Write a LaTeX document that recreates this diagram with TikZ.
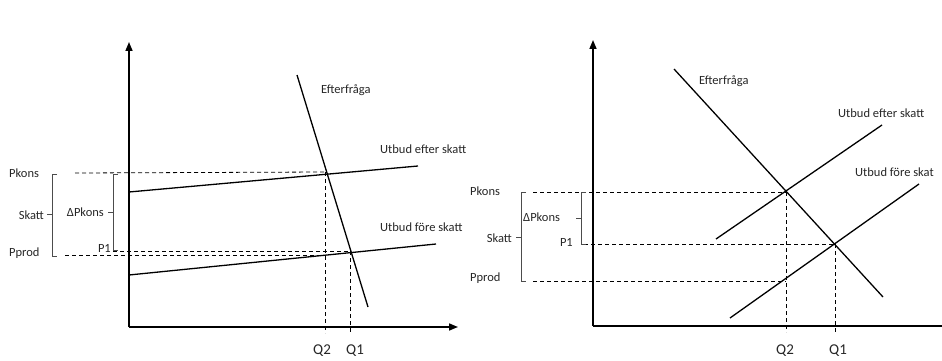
\documentclass[tikz,border=0pt]{standalone}
\usepackage{fontspec}
\setmainfont{Carlito}
\usetikzlibrary{arrows.meta}
\begin{document}
\begin{tikzpicture}[x=1pt,y=-1pt,
  axis/.style={line width=1.6pt,-{Triangle[length=9pt,width=7pt]}},
  curve/.style={line width=1.3pt},
  dashln/.style={line width=0.8pt,dash pattern=on 4pt off 3pt},
  brack/.style={line width=0.6pt,black!70},
  lbl/.style={font=\fontsize{12.5}{14}\selectfont,inner sep=0pt,text=black!85},
  qlbl/.style={font=\fontsize{15}{17}\selectfont,inner sep=0pt,text=black!85},
]
\useasboundingbox (0,0) rectangle (942,361);
% ---------- left chart ----------
\coordinate (LO) at (129,327);
\coordinate (LY) at (129,42);
\coordinate (LX) at (458,327);
\draw[axis] (LO) -- (LY);
\draw[axis] (LO) -- (LX);
\coordinate (LDa) at (297,75);
\coordinate (LDb) at (368,307);
\coordinate (LAa) at (129,192);
\coordinate (LAb) at (418,166);
\coordinate (LBa) at (129,275);
\coordinate (LBb) at (436,244);
\draw[curve] (LDa) -- (LDb);
\draw[curve] (LAa) -- (LAb);
\draw[curve] (LBa) -- (LBb);
% intersections
\coordinate (LE2) at (325,172);
\coordinate (LE1) at (350,251);
\coordinate (LS2) at (325,255);
\coordinate (LQ2) at (325,333);
\coordinate (LQ1) at (350,333);
\coordinate (LPk) at (75,173);
\coordinate (LPp) at (65,255);
\coordinate (LP1) at (113,251);
\draw[dashln] (LPk) -- (LE2);
\draw[dashln] (LPp) -- (LS2);
\draw[dashln] (LP1) -- (LE1);
\draw[dashln] (LE2) -- (LQ2);
\draw[dashln] (LE1) -- (LQ1);
% brackets
\coordinate (LSk1) at (57,174);
\coordinate (LSk2) at (52,174);
\coordinate (LSk3) at (52,256);
\coordinate (LSk4) at (57,256);
\coordinate (LSkm) at (52,214);
\coordinate (LSkt) at (47,214);
\draw[brack] (LSk1) -- (LSk2) -- (LSk3) -- (LSk4);
\draw[brack] (LSkm) -- (LSkt);
\coordinate (LDp1) at (118,174);
\coordinate (LDp2) at (113,174);
\coordinate (LDp3) at (113,250);
\coordinate (LDp4) at (118,250);
\coordinate (LDpm) at (113,212);
\coordinate (LDpt) at (108,212);
\draw[brack] (LDp1) -- (LDp2) -- (LDp3) -- (LDp4);
\draw[brack] (LDpm) -- (LDpt);
% labels
\node[lbl,anchor=west] (lpk) at (9,173) {Pkons};
\node[lbl,anchor=east] (lsk) at (44,215) {Skatt};
\node[lbl,anchor=west] (lpp) at (9,253) {Pprod};
\node[lbl,anchor=east] (ldp) at (104,212) {ΔPkons};
\node[lbl,anchor=east] (lp1) at (111,248) {P1};
\node[qlbl] (lq2) at (322,351) {Q2};
\node[qlbl] (lq1) at (355,351) {Q1};
\node[lbl,anchor=west] (lef) at (321,90) {Efterfråga};
\node[lbl,anchor=west] (lue) at (380,149) {Utbud efter skatt};
\node[lbl,anchor=west] (luf) at (380,227) {Utbud före skatt};
% ---------- right chart ----------
\coordinate (RO) at (593,326);
\coordinate (RY) at (593,40);
\coordinate (RX) at (948,326);
\draw[axis] (RO) -- (RY);
\draw[line width=1.6pt] (RO) -- (RX);
\coordinate (RDa) at (674,69);
\coordinate (RDb) at (883,297);
\coordinate (RAa) at (716,239);
\coordinate (RAb) at (882,125);
\coordinate (RBa) at (730,318);
\coordinate (RBb) at (919,184);
\draw[curve] (RDa) -- (RDb);
\draw[curve] (RAa) -- (RAb);
\draw[curve] (RBa) -- (RBb);
\coordinate (RE2) at (786,192);
\coordinate (RE1) at (835,244);
\coordinate (RS2) at (786,281);
\coordinate (RQ2) at (786,332);
\coordinate (RQ1) at (835,332);
\coordinate (RPk) at (533,192);
\coordinate (RPp) at (533,281);
\coordinate (RP1) at (584,244);
\draw[dashln] (RPk) -- (RE2);
\draw[dashln] (RPp) -- (RS2);
\draw[dashln] (RP1) -- (RE1);
\draw[dashln] (RE2) -- (RQ2);
\draw[dashln] (RE1) -- (RQ1);
\coordinate (RSk1) at (526,192);
\coordinate (RSk2) at (521,192);
\coordinate (RSk3) at (521,281);
\coordinate (RSk4) at (526,281);
\coordinate (RSkm) at (521,237);
\coordinate (RSkt) at (516,237);
\draw[brack] (RSk1) -- (RSk2) -- (RSk3) -- (RSk4);
\draw[brack] (RSkm) -- (RSkt);
\coordinate (RDp1) at (586,192);
\coordinate (RDp2) at (581,192);
\coordinate (RDp3) at (581,244);
\coordinate (RDp4) at (586,244);
\coordinate (RDpm) at (581,218);
\coordinate (RDpt) at (576,218);
\draw[brack] (RDp1) -- (RDp2) -- (RDp3) -- (RDp4);
\draw[brack] (RDpm) -- (RDpt);
\node[lbl,anchor=west] (rpk) at (470,191) {Pkons};
\node[lbl,anchor=east] (rsk) at (512,238) {Skatt};
\node[lbl,anchor=west] (rpp) at (470,278) {Pprod};
\node[lbl,anchor=west] (rdp) at (523,217) {ΔPkons};
\node[lbl,anchor=east] (rp1) at (573,242) {P1};
\node[qlbl] (rq2) at (785,351) {Q2};
\node[qlbl] (rq1) at (838,351) {Q1};
\node[lbl,anchor=west] (ref) at (699,81) {Efterfråga};
\node[lbl,anchor=west] (rue) at (838,113) {Utbud efter skatt};
\node[lbl,anchor=west] (ruf) at (855,172) {Utbud före skat};
\end{tikzpicture}
\end{document}
